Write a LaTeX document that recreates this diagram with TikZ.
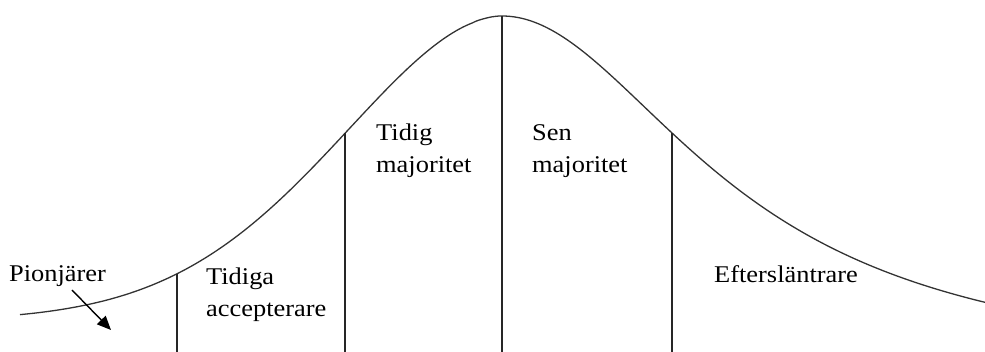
\documentclass[tikz,border=0pt]{standalone}
\usepackage{fontspec}
\setmainfont[FakeStretch=1.1]{Liberation Serif}
\usetikzlibrary{arrows.meta}
\tikzset{
  lbl/.style={inner sep=0pt, anchor=base west, align=left, font=\fontsize{24}{32}\selectfont},
  curve/.style={line width=1.3pt, draw=black!80},
  divider/.style={line width=1.3pt, draw=black!85},
  pointer/.style={line width=1.4pt, -{Triangle[width=12pt,length=14pt]}}
}
\begin{document}
\begin{tikzpicture}[x=1pt,y=-1pt]
\useasboundingbox (0,0) rectangle (985,352);
\draw[curve] plot[domain=-482:-0.5, samples=150] ({502+\x}, {16+305*(1-exp(-pow(abs(\x)/232,1.85)))})
  -- plot[domain=0:483, samples=150] ({502+\x}, {16+360*(\x/100)^2/(6.0031+(\x/100)^2)});
\coordinate (t1) at (177,274); \coordinate (b1) at (177,352);
\coordinate (t2) at (345,133); \coordinate (b2) at (345,352);
\coordinate (t3) at (502,16);  \coordinate (b3) at (502,352);
\coordinate (t4) at (672,133); \coordinate (b4) at (672,352);
\draw[divider] (t1) -- (b1);
\draw[divider] (t2) -- (b2);
\draw[divider] (t3) -- (b3);
\draw[divider] (t4) -- (b4);
\node[lbl] (pion) at (9,282) {Pionjärer};
\node[lbl] (tidiga) at (206,317) {Tidiga\\accepterare};
\node[lbl] (tidig) at (376,173) {Tidig\\majoritet};
\node[lbl] (sen) at (532,173) {Sen\\majoritet};
\node[lbl] (efter) at (714,283) {Eftersläntrare};
\coordinate (arrowtail) at (72,290);
\coordinate (arrowtip) at (111,330);
\draw[pointer] (arrowtail) -- (arrowtip);
\end{tikzpicture}
\end{document}
